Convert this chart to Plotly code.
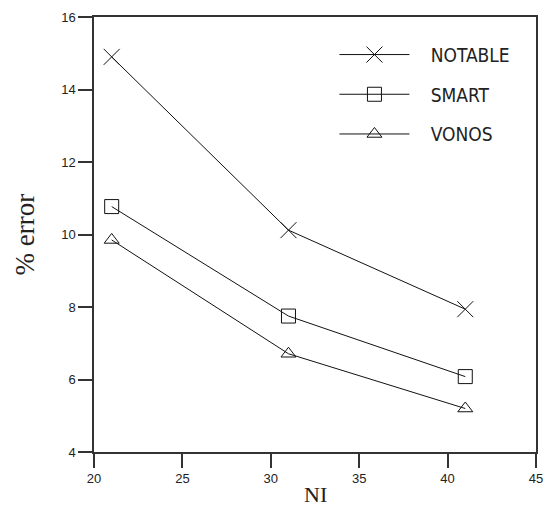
import plotly.graph_objects as go

ni = [21, 31, 41]
notable = [14.9, 10.12, 7.94]
smart = [10.77, 7.75, 6.08]
vonos = [9.85, 6.71, 5.2]

x_ticks = [20, 25, 30, 35, 40, 45]
y_ticks = [4, 6, 8, 10, 12, 14, 16]

series = [
    ("NOTABLE", notable, "x-thin-open", 16),
    ("SMART", smart, "square-open", 14),
    ("VONOS", vonos, "triangle-up-open", 13),
]

fig = go.Figure()
for i, (name, vals, sym, size) in enumerate(series):
    fig.add_trace(go.Scatter(
        x=ni, y=vals, name="&nbsp;&nbsp;&nbsp;" + name, mode="lines+markers",
        line=dict(color="#111", width=1),
        marker=dict(symbol=sym, size=size, color="#111",
                    line=dict(color="#111", width=1)),
        legendgroup=f"g{i}",
    ))

axis_common = dict(
    showgrid=False, zeroline=False, showline=True, mirror=True,
    linecolor="#333", linewidth=1.5, automargin=False,
    ticks="outside", ticklen=14, tickwidth=1.5, tickcolor="#333",
    tickfont=dict(family="Liberation Sans, Arial, sans-serif", size=13, color="#222"),
)

fig.update_layout(
    width=544, height=511,
    margin=dict(l=94, r=8, t=17, b=59),
    paper_bgcolor="white", plot_bgcolor="white",
    xaxis=dict(range=[20, 45], tickvals=x_ticks, **axis_common),
    yaxis=dict(range=[4, 16], tickvals=y_ticks, **axis_common),
    legend=dict(x=0.544, y=0.957, xanchor="left", yanchor="top",
                bgcolor="rgba(0,0,0,0)", borderwidth=0,
                tracegroupgap=12, itemwidth=70,
                font=dict(family="Liberation Sans Narrow, Arial Narrow, DejaVu Sans Condensed, sans-serif",
                          size=19, color="#222")),
    showlegend=True,
    annotations=[
        dict(text="NI", xref="paper", yref="paper", x=0.5, y=0, yshift=-42,
             xanchor="center", yanchor="middle", showarrow=False,
             font=dict(family="Liberation Serif, Times New Roman, serif", size=22, color="#222")),
        dict(text="% error", xref="paper", yref="paper", x=0, y=0.5, xshift=-70,
             xanchor="center", yanchor="middle", textangle=-90, showarrow=False,
             font=dict(family="Liberation Serif, Times New Roman, serif", size=27, color="#222")),
    ],
)

fig.write_html("out.html", config={"displayModeBar": False},
               post_script="document.body.style.margin='0';")
